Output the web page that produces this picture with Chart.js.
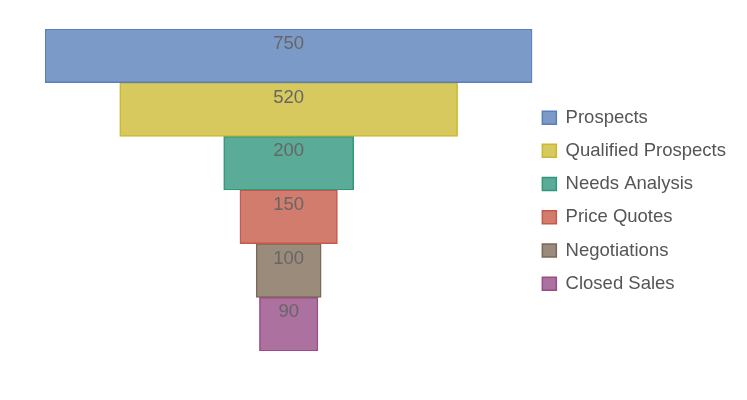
<!DOCTYPE html>
<html lang="en">
<head>
  <meta charset="UTF-8">
  <title>Sales Funnel</title>
  <style>
    html, body {
      margin: 0;
      padding: 0;
      background: #ffffff;
    }
    .chart-box {
      width: 747px;
      height: 400px;
    }
  </style>
  <script src="https://cdn.jsdelivr.net/npm/chart.js"></script>
</head>
<body>
  <div class="chart-box">
    <canvas id="funnelChart" width="747" height="400"></canvas>
  </div>

  <script>
    // funnel stages, top to bottom
    const stages = ['Prospects', 'Qualified Prospects', 'Needs Analysis', 'Price Quotes', 'Negotiations', 'Closed Sales'];
    const stageValues = [750, 520, 200, 150, 100, 90];
    const fillColors = ['#7b9ac8', '#d7c95e', '#5aab97', '#d17c6d', '#9b8b7b', '#ac719f'];
    const borderColors = ['#5a7ec2', '#cbb731', '#2f9879', '#c9574a', '#7d6856', '#9a4b89'];

    const maxValue = Math.max(...stageValues);
    const fontFamily = '"Liberation Sans", Arial, sans-serif';

    // one dataset per stage so the legend lists every stage;
    // each bar floats around zero so the funnel is centred
    const datasets = stages.map((name, i) => ({
      label: name,
      data: stages.map((_, j) => j === i ? [-stageValues[i] / 2, stageValues[i] / 2] : null),
      backgroundColor: fillColors[i],
      borderColor: borderColors[i],
      borderWidth: 1.5,
      borderSkipped: false,
      grouped: false,
      barPercentage: 1,
      categoryPercentage: 1
    }));

    // draws the value near the top of each bar
    const valueLabels = {
      id: 'valueLabels',
      afterDatasetsDraw(chart) {
        const ctx = chart.ctx;
        ctx.save();
        ctx.font = '18.5px ' + fontFamily;
        ctx.fillStyle = '#666666';
        ctx.textAlign = 'center';
        ctx.textBaseline = 'middle';
        chart.data.datasets.forEach((ds, i) => {
          const bar = chart.getDatasetMeta(i).data[i];
          if (!bar) return;
          const props = bar.getProps(['x', 'y', 'base', 'height'], true);
          const cx = (props.x + props.base) / 2;
          const top = props.y - props.height / 2;
          ctx.fillText(stageValues[i], cx, top + 15);
        });
        ctx.restore();
      }
    };

    const funnelCtx = document.getElementById('funnelChart').getContext('2d');

    const funnelChart = new Chart(funnelCtx, {
      type: 'bar',
      data: {
        labels: stages,
        datasets: datasets
      },
      options: {
        indexAxis: 'y',
        responsive: false,
        animation: false,
        layout: {
          padding: { left: 45, top: 29, bottom: 49, right: 11 }
        },
        plugins: {
          legend: {
            position: 'right',
            title: {
              // empty title, only used to push the items down a little
              display: true,
              text: ' ',
              font: { size: 12, lineHeight: 1 },
              padding: 7
            },
            labels: {
              boxWidth: 14,
              boxHeight: 13,
              padding: 10,
              color: '#555555',
              // line height sets the row spacing when the text is an array
              font: { family: fontFamily, size: 18.5, lineHeight: '23.2px' },
              generateLabels(chart) {
                const items = Chart.defaults.plugins.legend.labels.generateLabels(chart);
                return items.map(item => Object.assign(item, { text: [item.text] }));
              }
            }
          },
          tooltip: { enabled: false }
        },
        scales: {
          x: { display: false, min: -maxValue / 2, max: maxValue / 2 },
          y: { display: false }
        }
      },
      plugins: [valueLabels]
    });
  </script>
</body>
</html>
